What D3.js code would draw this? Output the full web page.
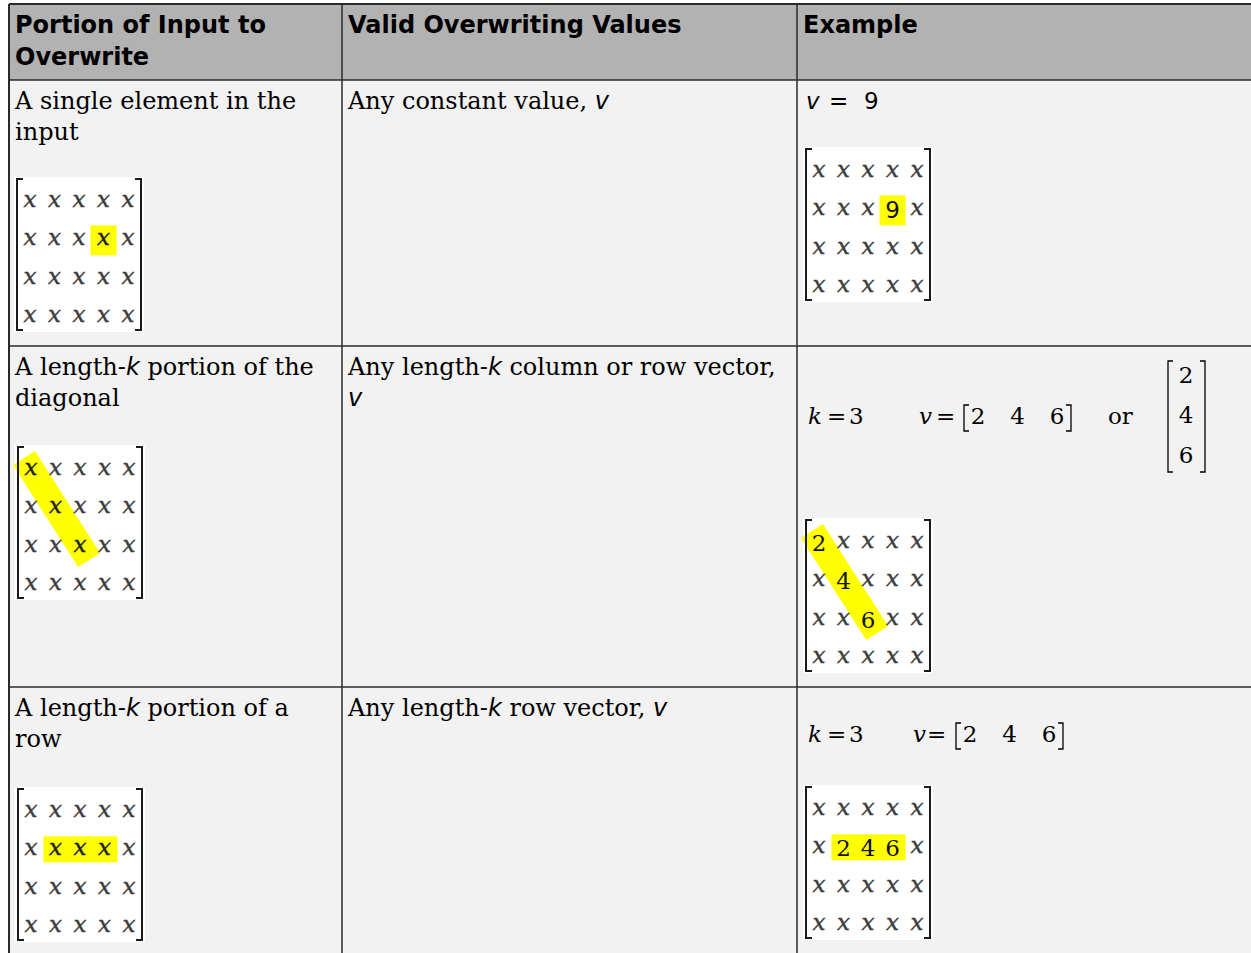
<!DOCTYPE html>
<html><head><meta charset="utf-8">
<script src="https://cdn.jsdelivr.net/npm/d3@7"></script>
<style>html,body{margin:0;padding:0;background:#fff;overflow:hidden}</style>
</head><body>
<svg id="c" width="1251" height="953"></svg>
<script>
// ---- data ----
const headers = [["Portion of Input to", "Overwrite"], ["Valid Overwriting Values"], ["Example"]];
// rich text lines: [text, italic?]
const portionLines = [
  [[["A single element in the", 0]], [["input", 0]]],
  [[["A length-", 0], ["k", 1], [" portion of the", 0]], [["diagonal", 0]]],
  [[["A length-", 0], ["k", 1], [" portion of a", 0]], [["row", 0]]]
];
const valueLines = [
  [[["Any constant value, ", 0], ["v", 1]]],
  [[["Any length-", 0], ["k", 1], [" column or row vector,", 0]], [["v", 1]]],
  [[["Any length-", 0], ["k", 1], [" row vector, ", 0], ["v", 1]]]
];
const kValue = 3;
const vVector = ["2", "4", "6"];
const constantValue = "9";
const matrixRows = 4, matrixCols = 5;
const matrices = [
  {row: 0, col: 0, kind: "single", values: null},
  {row: 0, col: 2, kind: "single", values: [constantValue]},
  {row: 1, col: 0, kind: "diag", values: null},
  {row: 1, col: 2, kind: "diag", values: vVector},
  {row: 2, col: 0, kind: "row", values: null},
  {row: 2, col: 2, kind: "row", values: vVector}
];

// ---- layout ----
const svg = d3.select("#c");
const colEdges = [9, 342, 797, 1262];
const rowEdges = [4, 80, 346, 687, 970];
const xCol = d3.scaleOrdinal().domain([0,1,2]).range(colEdges.slice(0,3));
const headerH = rowEdges[1]-rowEdges[0];
const SERIF = "DejaVu Serif", SANS = "DejaVu Sans";

svg.append("rect").attr("width",1251).attr("height",953).attr("fill","#fff");
svg.append("rect").attr("x",colEdges[0]).attr("y",rowEdges[0]).attr("width",colEdges[3]-colEdges[0]).attr("height",headerH).attr("fill","#b2b2b2");
for (let r=1;r<4;r++) svg.append("rect").attr("x",colEdges[0]).attr("y",rowEdges[r]).attr("width",colEdges[3]-colEdges[0]).attr("height",rowEdges[r+1]-rowEdges[r]).attr("fill","#f2f2f2");

// header texts
headers.forEach((lines,i)=>{
  const t = svg.append("text").attr("font-family",SANS).attr("font-weight","bold").attr("font-size",24).attr("fill","#000");
  lines.forEach((l,j)=>t.append("tspan").attr("x",xCol(i)+6).attr("y",rowEdges[0]+29+j*32).text(l));
});

function rich(x, y, lines, lh){
  const t = svg.append("text").attr("font-family",SERIF).attr("font-size",24).attr("fill","#000");
  lines.forEach((segs,j)=>{
    segs.forEach((s,k)=>{
      const ts = t.append("tspan").text(s[0]);
      if (k===0) ts.attr("x",x).attr("y",y+j*lh);
      if (s[1]) ts.attr("font-family",SANS).attr("font-style","italic");
    });
  });
}
portionLines.forEach((lines,r)=>rich(xCol(0)+6, rowEdges[r+1]+29, lines, 31));
valueLines.forEach((lines,r)=>rich(xCol(1)+6, rowEdges[r+1]+29, lines, 31));

// Example row 1: v = 9
{
  const g = svg.append("g").attr("font-family",SANS).attr("font-size",23).attr("fill","#000");
  const y = rowEdges[1]+29;
  g.append("text").attr("x",xCol(2)+9).attr("y",y).attr("font-style","italic").text("v");
  g.append("text").attr("x",xCol(2)+32).attr("y",y).text("=");
  g.append("text").attr("x",xCol(2)+67).attr("y",y).text(constantValue);
}

// math expressions
function mathLine(y, o){
  const g = svg.append("g").attr("font-family",SERIF).attr("font-size",23).attr("fill","#000");
  const mk = (x, txt, it, anchor)=> g.append("text").attr("x",x).attr("y",y).attr("font-style",it?"italic":"normal").attr("text-anchor",anchor||"start").text(txt);
  mk(xCol(2)+11,"k",1); mk(xCol(2)+30,"=",0); mk(xCol(2)+52,kValue,0);
  mk(o.v,"v",1); mk(o.v+o.eq,"=",0);
  const bx = d3.scaleLinear().domain([0,vVector.length-1]).range([o.v+o.n0, o.v+o.n2]);
  vVector.forEach((d,i)=>mk(bx(i), d, 0, "middle"));
  const lb = o.v+o.lb, rb = o.v+o.rb;
  g.append("path").attr("d",`M${lb+5},${y-19}H${lb}V${y+7}H${lb+5}M${rb-5},${y-19}H${rb}V${y+7}H${rb-5}`).attr("fill","none").attr("stroke","#000").attr("stroke-width",1.3);
  if (o.or){
    mk(o.or,"or",0);
    const cy = d3.scaleLinear().domain([0,vVector.length-1]).range([y-41, y+39]);
    vVector.forEach((d,i)=>mk(1186, d, 0, "middle").attr("y",cy(i)));
    const top = y-63, bot = y+48;
    g.append("path").attr("d",`M1173,${top}H1168V${bot}H1173M1200,${top}H1205V${bot}H1200`).attr("fill","none").attr("stroke","#000").attr("stroke-width",1.3);
  }
}
mathLine(424, {v:919, eq:17, lb:45, n0:59, n2:138, rb:152, or:1108});
mathLine(742, {v:913, eq:14, lb:43, n0:57, n2:136, rb:150});

// matrices
const boxPos = [[14,177],[803,147],[15,445],[803,518],[15,787],[803,785]];
const boxW = 130, boxH = 155;
const cx = d3.scalePoint().domain(d3.range(matrixCols)).range([16,114]);
const cy = d3.scalePoint().domain(d3.range(matrixRows)).range([24,139]);

matrices.forEach((m,mi)=>{
  const [bx,by] = boxPos[mi];
  const g = svg.append("g").attr("transform",`translate(${bx},${by})`);
  g.append("rect").attr("width",boxW).attr("height",boxH).attr("fill","#fff");
  let hl = new Map();
  if (m.kind==="single"){
    g.append("rect").attr("x",cx(3)-13).attr("y",cy(1)-14).attr("width",26).attr("height",30).attr("fill","#ffff00");
    hl.set("1,3", m.values ? m.values[0] : null);
  } else if (m.kind==="row"){
    g.append("rect").attr("x",cx(1)-12).attr("y",cy(1)-13).attr("width",cx(3)-cx(1)+25).attr("height",26).attr("fill","#ffff00");
    [1,2,3].forEach((c,i)=>hl.set(`1,${c}`, m.values?m.values[i]:null));
  } else {
    const x0=cx(0), y0=cy(0), x1=cx(2), y1=cy(2);
    const dx=x1-x0, dy=y1-y0, L=Math.hypot(dx,dy), ux=dx/L, uy=dy/L, px=-uy, py=ux;
    const hw=13, back=13, fwd=17;
    const sx=x0-ux*back, sy=y0-uy*back, ex=x1+ux*fwd, ey=y1+uy*fwd;
    const pts=[[sx+px*hw,sy+py*hw],[sx-px*hw,sy-py*hw],[ex-px*hw,ey-py*hw],[ex+px*hw,ey+py*hw]];
    g.append("polygon").attr("points",pts.map(p=>p.join(",")).join(" ")).attr("fill","#ffff00");
    [0,1,2].forEach(i=>hl.set(`${i},${i}`, m.values?m.values[i]:null));
  }
  g.append("path").attr("d",`M9,2H3V${boxH-2}H9M${boxW-9},2H${boxW-3}V${boxH-2}H${boxW-9}`).attr("fill","none").attr("stroke","#1a1a1a").attr("stroke-width",2);
  const cells=[];
  for(let r=0;r<matrixRows;r++)for(let c=0;c<matrixCols;c++)cells.push({r,c});
  g.selectAll("text.cell").data(cells).join("text").attr("class","cell")
    .attr("x",d=>cx(d.c)).attr("y",d=>cy(d.r)+6).attr("text-anchor","middle")
    .each(function(d){
      const key=`${d.r},${d.c}`;
      const val = hl.has(key) ? hl.get(key) : null;
      const s=d3.select(this);
      if (val!==null){
        s.text(val).attr("font-size",23).attr("fill","#111").attr("y",cy(d.r)+9)
         .attr("font-family", m.kind==="single" ? SANS : SERIF);
      } else {
        s.text("x").attr("font-family",SERIF).attr("font-style","italic").attr("font-size",23)
         .attr("fill", hl.has(key) ? "#222" : "#3c3c3c")
         .attr("stroke", hl.has(key) ? "#222" : "#3c3c3c").attr("stroke-width",0.4);
      }
    });
});

// grid lines
const lineColor = "#2a2a2a";
colEdges.slice(0,3).forEach(x=>svg.append("line").attr("x1",x).attr("x2",x).attr("y1",rowEdges[0]).attr("y2",953).attr("stroke",lineColor).attr("stroke-width",x===colEdges[0]?2:1.5));
rowEdges.slice(0,4).forEach(y=>svg.append("line").attr("x1",colEdges[0]).attr("x2",1251).attr("y1",y).attr("y2",y).attr("stroke",lineColor).attr("stroke-width",y===rowEdges[0]?2:1.5));
</script>
</body></html>
